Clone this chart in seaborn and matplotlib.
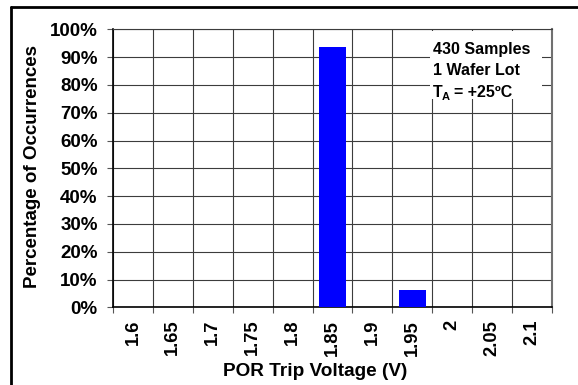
import matplotlib
matplotlib.use("Agg")
import matplotlib.pyplot as plt
from matplotlib.lines import Line2D
from matplotlib.patches import Rectangle
import numpy as np
import pandas as pd
import seaborn as sns

# Histogram of POR trip voltage (percentage of parts per bin)
voltages = ["1.6", "1.65", "1.7", "1.75", "1.8", "1.85", "1.9", "1.95", "2", "2.05", "2.1"]
percent = [0, 0, 0, 0, 0, 93.7, 0, 6.3, 0, 0, 0]
y_ticks = [0, 10, 20, 30, 40, 50, 60, 70, 80, 90, 100]
y_tick_labels = [f"{v}%" for v in y_ticks]
note_lines = ["430 Samples", "1 Wafer Lot"]

sns.set_theme(style="white")
plt.rcParams["font.family"] = ["Liberation Sans", "DejaVu Sans"]
plt.rcParams["font.weight"] = "bold"

W, H = 578, 385
fig = plt.figure(figsize=(W / 100, H / 100), dpi=100)
fig.patch.set_facecolor("white")


def fx(px):
    return px / W


def fy(py):
    return 1 - py / H


ax_l, ax_r, ax_t, ax_b = 113, 552, 29.3, 307.3
ax = fig.add_axes([fx(ax_l), fy(ax_b), fx(ax_r) - fx(ax_l), fy(ax_t) - fy(ax_b)])

df = pd.DataFrame({"voltage": voltages, "percent": percent})
sns.barplot(data=df, x="voltage", y="percent", order=voltages, color="#0000FF",
            saturation=1, width=0.67, linewidth=0, ax=ax, zorder=3)

ax.set_xlim(-0.5, len(voltages) - 0.5)
ax.set_ylim(0, 100)
ax.set_yticks(y_ticks)
ax.set_yticklabels(y_tick_labels)
ax.set_xticks(range(len(voltages)))
ax.set_xticklabels(voltages, rotation=90)
ax.set_xticks(np.arange(-0.5, len(voltages), 1.0), minor=True)

grid_color = "#3c3c3c"
ax.grid(False)
ax.yaxis.grid(True, which="major", color=grid_color, linewidth=0.8, zorder=0)
ax.xaxis.grid(True, which="minor", color=grid_color, linewidth=0.8, zorder=0)
ax.set_axisbelow(True)

ax.tick_params(axis="x", which="major", length=0, pad=9, labelsize=13.2)
ax.tick_params(axis="x", which="minor", length=4.5, width=0.8, color="#555555",
               direction="out", bottom=True)
ax.tick_params(axis="y", which="major", length=4, width=0.8, color="#555555",
               direction="out", left=True, pad=7, labelsize=13.5)
for lbl in ax.get_xticklabels() + ax.get_yticklabels():
    lbl.set_fontweight("bold")
    lbl.set_color("black")

ax.set_xlabel("")
ax.set_ylabel("")
for side in ["left", "bottom"]:
    ax.spines[side].set_color("black")
    ax.spines[side].set_linewidth(1.2)
ax.spines["right"].set_color("#707070")
ax.spines["right"].set_linewidth(1.5)
ax.spines["top"].set_color(grid_color)
ax.spines["top"].set_linewidth(0.8)

# Axis titles
fig.text(fx(33), fy(166), "Percentage of Occurrences", rotation=90,
         ha="center", va="center", fontsize=13.5, fontweight="bold", color="black")
fig.text(fx(315), fy(372), "POR Trip Voltage (V)",
         ha="center", va="center", fontsize=13.7, fontweight="bold", color="black")

# Test conditions note on a white patch over the grid
fig.patches.append(Rectangle((fx(430), fy(99)), fx(542) - fx(430), fy(31) - fy(99),
                             transform=fig.transFigure, facecolor="white",
                             edgecolor="none", zorder=5))
note_size = 11.5
for text, base in zip(note_lines, [54, 75.3]):
    fig.text(fx(433), fy(base), text, ha="left", va="baseline",
             fontsize=note_size, fontweight="bold", color="black", zorder=6)
fig.text(fx(433), fy(96.7), "T", ha="left", va="baseline",
         fontsize=note_size, fontweight="bold", color="black", zorder=6)
fig.text(fx(441.5), fy(99.5), "A", ha="left", va="baseline",
         fontsize=8, fontweight="bold", color="black", zorder=6)
fig.text(fx(453.5), fy(96.7), "= +25ºC", ha="left", va="baseline",
         fontsize=note_size, fontweight="bold", color="black", zorder=6)

# Outer frame (left and top edges)
fig.lines.append(Line2D([fx(11), fx(11)], [0, fy(7)], transform=fig.transFigure,
                        color="black", linewidth=2))
fig.lines.append(Line2D([fx(11), 1], [fy(7), fy(7)], transform=fig.transFigure,
                        color="black", linewidth=2))

fig.savefig("out.png", dpi=100, facecolor="white")
